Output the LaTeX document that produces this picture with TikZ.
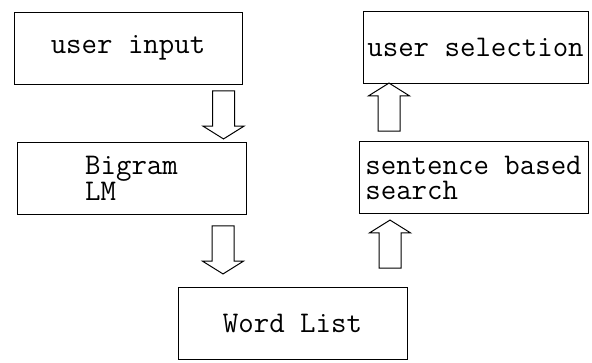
\documentclass[tikz,border=0pt]{standalone}
\usepackage{tikz}
\usetikzlibrary{shapes.arrows}

\begin{document}
\begin{tikzpicture}[x=1pt,y=-1pt,
		box/.style={draw,line width=1pt,inner sep=0pt,minimum width=229pt,minimum height=72pt,align=left,
			font=\ttfamily\fontsize{30}{25}\selectfont},
		blockarrow/.style={draw,line width=1pt,single arrow,inner sep=10.5pt,single arrow head extend=9.5pt,
			single arrow tip angle=116,minimum height=48pt}]
		\useasboundingbox (0,0) rectangle (592,362);
		\node[box,minimum width=228pt] (input) at (128,48) {user input};
		\node[box] (bigram) at (131.5,178) {Bigram\\LM};
		\node[box] (wordlist) at (292.5,323.5) {Word List};
		\node[box] (search) at (473.5,177.5) {sentence based\\search};
		\node[box,minimum width=225pt] (selection) at (475.5,47.5) {user selection};
		\node[blockarrow,rotate=-90] (down1) at (223.5,111.5) {};
		\node[blockarrow,rotate=-90] (down2) at (223,246.5) {};
		\node[blockarrow,rotate=90] (up1) at (389,110.5) {};
		\node[blockarrow,rotate=90] (up2) at (390,247.5) {};
	\end{tikzpicture}
\end{document}
